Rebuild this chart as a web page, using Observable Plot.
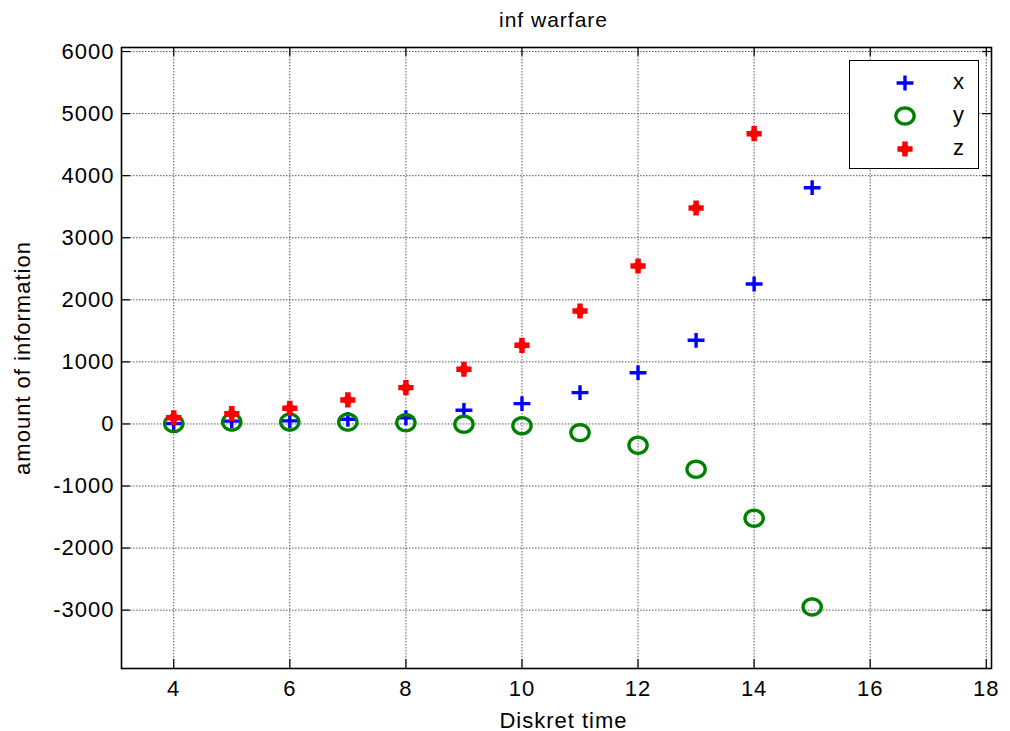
<!DOCTYPE html>
<html><head><meta charset="utf-8">
<script src="https://cdn.jsdelivr.net/npm/d3@7"></script>
<script src="https://cdn.jsdelivr.net/npm/@observablehq/plot@0.6"></script>
<style>
body{margin:0;background:#fff;font-family:"Liberation Sans",Arial,sans-serif;}
#wrap{position:relative;width:1010px;height:731px;}
#legend{position:absolute;left:849px;top:60px;width:128px;height:107px;border:1.6px solid #000;background:#fff;}
#legend .row{position:absolute;left:0;width:128px;height:30px;}
#legend svg{position:absolute;left:40px;top:0;}
#legend span{position:absolute;left:103px;top:2px;font-size:22px;line-height:24px;letter-spacing:1px;}
</style></head><body><div id="wrap"></div>
<script>
// ---- data ----
const times  = [4, 5, 6, 7, 8, 9, 10, 11, 12, 13, 14, 15];
const xVals  = [5, 45, 50, 75, 100, 220, 327, 504, 826, 1348, 2255, 3806];
const yVals  = [5, 30, 30, 30, 20, -5, -30, -140, -343, -730, -1519, -2948];
const zTimes = [4, 5, 6, 7, 8, 9, 10, 11, 12, 13, 14];
const zVals  = [100, 166, 253, 387, 585, 881, 1267, 1820, 2545, 3479, 4676];
const seriesNames = ["x", "y", "z"];
const seriesColors = ["#0000ff", "#008000", "#ff0000"];
const xTicks = [4, 6, 8, 10, 12, 14, 16, 18];
const yTicks = [-3000, -2000, -1000, 0, 1000, 2000, 3000, 4000, 5000, 6000];
const title = "inf warfare";
const xLabel = "Diskret time";
const yLabel = "amount of information";

// ---- symbols ----
const SX = 1.14;
const plusSym = {draw(c, size){const r=Math.sqrt(size/Math.PI);c.moveTo(-r*SX,0);c.lineTo(r*SX,0);c.moveTo(0,-r);c.lineTo(0,r);}};
const ringSym = {draw(c, size){const r=Math.sqrt(size/Math.PI);const rx=r*SX,ry=r;const n=40;
  for(let i=0;i<=n;i++){const a=i/n*2*Math.PI;const px=rx*Math.cos(a),py=ry*Math.sin(a);if(i===0)c.moveTo(px,py);else c.lineTo(px,py);}c.closePath();}};
const starSym = {draw(c, size){const r=Math.sqrt(size/Math.PI);const w=r*0.36, d=r*0.86;
  c.moveTo(-w,-r);c.lineTo(w,-r);c.lineTo(w,-w);c.lineTo(r,-w);c.lineTo(r,w);c.lineTo(w,w);c.lineTo(w,r);c.lineTo(-w,r);c.lineTo(-w,w);c.lineTo(-r,w);c.lineTo(-r,-w);c.lineTo(-w,-w);c.closePath();
  c.moveTo(0,-d);c.lineTo(d,0);c.lineTo(0,d);c.lineTo(-d,0);c.closePath();}};
const symbols = [plusSym, ringSym, starSym];
const dotStyle = [
  {r:7.4, fill:"none", stroke:seriesColors[0], strokeWidth:3.4},
  {r:8, fill:"none", stroke:seriesColors[1], strokeWidth:3.4},
  {r:7.6, fill:seriesColors[2], stroke:"none", strokeWidth:0}
];

const xData = times.map((t,i)=>({t, v:xVals[i]}));
const yData = times.map((t,i)=>({t, v:yVals[i]}));
const zData = zTimes.map((t,i)=>({t, v:zVals[i]}));
const seriesData = [xData, yData, zData];

const W=1010,H=731,mL=121,mR=19,mT=47,mB=63;
const fw=W-mL-mR, fh=H-mT-mB, tk=9;
const gridStyle = {stroke:"#000", strokeOpacity:0.65, strokeDasharray:"1.5,1.5", strokeWidth:1};
const tickStyle = {stroke:"#000", strokeWidth:1.2};

const plot = Plot.plot({
  width:W, height:H, marginLeft:mL, marginRight:mR, marginTop:mT, marginBottom:mB,
  style:{fontFamily:"Liberation Sans, Arial, sans-serif", background:"#fff", color:"#000", letterSpacing:"1px", overflow:"visible"},
  x:{domain:[3.1, 18.09]},
  y:{domain:[-3940, 6065]},
  marks:[
    Plot.gridX(xTicks, gridStyle),
    Plot.gridY(yTicks, gridStyle),
    Plot.ruleX(xTicks, {x:d=>d, insetTop:fh-tk, ...tickStyle}),
    Plot.ruleX(xTicks, {x:d=>d, insetBottom:fh-tk, ...tickStyle}),
    Plot.ruleY(yTicks, {y:d=>d, insetRight:fw-tk, ...tickStyle}),
    Plot.ruleY(yTicks, {y:d=>d, insetLeft:fw-tk, ...tickStyle}),
    Plot.axisX(xTicks, {tickSize:0, tickPadding:12, fontSize:22, label:null, tickFormat:d=>String(d)}),
    Plot.axisY(yTicks, {tickSize:0, tickPadding:7, fontSize:22, label:null, tickFormat:d=>String(d)}),
    Plot.frame({stroke:"#000", strokeWidth:1.6}),
    ...seriesData.map((data,i)=>Plot.dot(data, {x:"t", y:"v", symbol:symbols[i], ...dotStyle[i]})),
    Plot.text([title], {text:d=>d, frameAnchor:"top", lineAnchor:"middle", dy:-27, dx:-3, fontSize:21}),
    Plot.text([xLabel], {text:d=>d, frameAnchor:"bottom", lineAnchor:"middle", dy:52, dx:7, fontSize:22}),
    Plot.text([yLabel], {text:d=>d, frameAnchor:"left", textAnchor:"middle", lineAnchor:"middle", rotate:-90, dx:-99, fontSize:22})
  ]
});
const wrap = document.getElementById("wrap");
wrap.appendChild(plot);

// ---- legend ----
const legend = document.createElement("div");
legend.id = "legend";
seriesNames.forEach((name,i)=>{
  const row = document.createElement("div");
  row.className = "row";
  row.style.top = (7 + i*33) + "px";
  const svg = d3.create("svg").attr("width",30).attr("height",30);
  const p = d3.path();
  const s = dotStyle[i];
  symbols[i].draw(p, Math.PI*s.r*s.r);
  svg.append("path").attr("transform","translate(15,15)").attr("d",p.toString())
    .attr("fill",s.fill).attr("stroke",s.stroke).attr("stroke-width",s.strokeWidth);
  row.appendChild(svg.node());
  const sp = document.createElement("span");
  sp.textContent = name;
  row.appendChild(sp);
  legend.appendChild(row);
});
wrap.appendChild(legend);
</script></body></html>
